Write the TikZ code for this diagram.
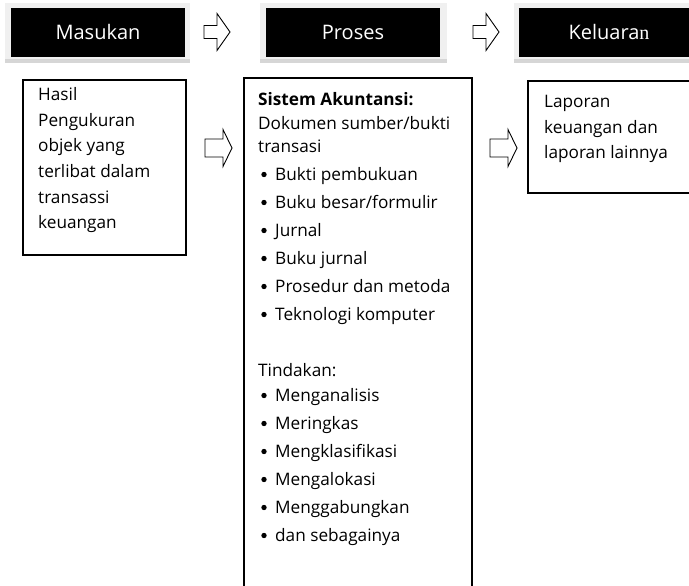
\documentclass[tikz,border=0pt]{standalone}
\usepackage{fontspec}
\setmainfont{Open Sans}
\newfontfamily\serifn{Liberation Serif}
\begin{document}
\begin{tikzpicture}[x=1pt,y=-1pt,
  hdr/.style={fill=black, text=white, inner sep=0pt, font=\fontsize{20}{24}\selectfont},
  frame/.style={fill=gray!12},
  frameshadow/.style={fill=gray!32},
  bx/.style={draw=black, line width=1.1pt, fill=white, inner sep=0pt},
  txt/.style={anchor=base west, inner sep=0pt, font=\fontsize{17.2}{20}\selectfont},
  bul/.style={circle, fill=black, inner sep=0pt, minimum size=5.4pt},
  arrowA/.pic={\draw[line width=0.9pt, fill=white] (0,-6.5) -- (13,-6.5) -- (13,-18.5) -- (26,0) -- (13,18.5) -- (13,6.5) -- (0,6.5) -- cycle;},
  arrowB/.pic={\draw[line width=0.9pt, fill=white] (0,-9) -- (18,-9) -- (18,-18.5) -- (27,0) -- (18,18.5) -- (18,9) -- (0,9) -- cycle;}
]
\useasboundingbox (0,0) rectangle (689,586);
\begin{scope}
\clip (0,0) rectangle (689,586);
% header frames
\fill[frame] (5,3) rectangle (190,63);
\fill[frameshadow] (5,59) rectangle (190,63);
\fill[frame] (260,3) rectangle (447,63);
\fill[frameshadow] (260,59) rectangle (447,63);
\fill[frame] (514,3) rectangle (700,63);
\fill[frameshadow] (514,59) rectangle (700,63);
% header nodes
\node[hdr, minimum width=174pt, minimum height=49pt] (masukan) at (98,32.5) {Masukan};
\node[hdr, minimum width=174pt, minimum height=49pt] (proses) at (353,32.5) {Proses};
\node[hdr, minimum width=180pt, minimum height=49pt] (keluaran) at (609,32.5) {Keluara{\serifn n}};
% header arrows
\pic at (204,32) {arrowA};
\pic at (473,32) {arrowA};
% boxes
\node[bx, minimum width=163pt, minimum height=175pt] (input) at (104.5,167.5) {};
\node[bx, minimum width=228pt, minimum height=530pt] (process) at (358,343) {};
\node[bx, minimum width=170pt, minimum height=112pt] (output) at (613,137) {};
% middle arrows
\pic at (205,148) {arrowB};
\pic at (490,148) {arrowB};
% input text
\node[txt] (i1) at (38,101) {Hasil};
\node[txt] (i2) at (38,126.5) {Pengukuran};
\node[txt] (i3) at (38,152) {objek yang};
\node[txt] (i4) at (38,177.5) {terlibat dalam};
\node[txt] (i5) at (38,203) {transassi};
\node[txt] (i6) at (38,228.5) {keuangan};
% process text
\node[txt, font=\fontsize{17.2}{20}\selectfont\bfseries] (p0) at (258,106) {Sistem Akuntansi:};
\node[txt] (p1) at (258,130) {Dokumen sumber/bukti};
\node[txt] (p2) at (258,153) {transasi};
\foreach \y/\t [count=\k] in {180/Bukti pembukuan, 208/Buku besar\slash formulir, 236/Jurnal, 264/Buku jurnal, 292/Prosedur dan metoda, 320/Teknologi komputer}{
  \node[bul] (pb\k) at (264,\y-5.5) {};
  \node[txt] (pa\k) at (275,\y) {\t};
}
\node[txt] (p3) at (258,376) {Tindakan:};
\foreach \y/\t [count=\k] in {401/Menganalisis, 429/Meringkas, 457/Mengklasifikasi, 485/Mengalokasi, 513/Menggabungkan, 541/dan sebagainya}{
  \node[bul] (tb\k) at (264,\y-5.5) {};
  \node[txt] (ta\k) at (275,\y) {\t};
}
% output text
\node[txt] (o1) at (544,108) {Laporan};
\node[txt] (o2) at (544,133) {keuangan dan};
\node[txt] (o3) at (544,158) {laporan lainnya};
\end{scope}
\end{tikzpicture}
\end{document}
